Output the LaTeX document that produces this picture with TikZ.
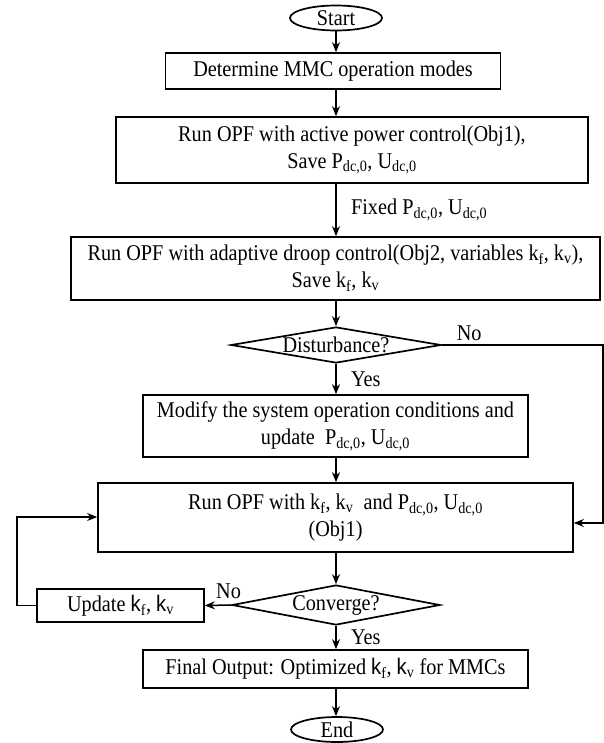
\documentclass[tikz,border=0pt]{standalone}
\usepackage{fontspec}
\setmainfont{Liberation Serif}[FakeStretch=0.9]
\setsansfont{Liberation Sans}[FakeStretch=0.9]
\usetikzlibrary{arrows.meta,shapes.geometric}
\newcommand{\dcz}[1]{#1\textsubscript{dc,0}}
\newcommand{\ksf}{\textsf{k}}

\begin{document}
\begin{tikzpicture}[x=1pt,y=-1pt,
        every node/.style={font=\fontsize{22.5}{27}\selectfont},
        proc/.style={draw,line width=1.7pt,align=center,inner sep=0pt},
        term/.style={draw,ellipse,line width=1.7pt,minimum width=92pt,minimum height=25pt,inner sep=0pt},
        decide/.style={draw,diamond,line width=1.7pt,inner sep=0pt},
        flow/.style={line width=1.5pt,-{Stealth[length=10pt,width=8pt]}}]
                \useasboundingbox (0,0) rectangle (604,743);
                \coordinate (axis) at (336,0);
                \coordinate (rgt) at (603,523);
                \coordinate (lft) at (17,517);
                \node [term] (start) at (336,18) {Start};
                \node [proc,minimum width=335pt,minimum height=36pt] (modes) at (333,71) {Determine MMC operation modes};
                \node [proc,minimum width=472pt,minimum height=66pt] (opf1) at (352,150) {Run OPF with active power control(Obj1),\\Save \dcz{P}, \dcz{U}};
                \node [proc,minimum width=529pt,minimum height=63pt] (opf2) at (335.5,268.5) {Run OPF with adaptive droop control(Obj2, variables k\textsubscript{f}, k\textsubscript{v}),\\Save k\textsubscript{f}, k\textsubscript{v}};
                \node [decide,minimum width=210pt,minimum height=36pt] (dist) at (336,345) {\makebox[0pt]{Disturbance?}};
                \node [proc,minimum width=385pt,minimum height=62pt] (modify) at (335.5,426) {Modify the system operation conditions and\\update~ \dcz{P}, \dcz{U}};
                \node [proc,minimum width=475pt,minimum height=69pt] (opf3) at (335.5,517.5) {Run OPF with k\textsubscript{f}, k\textsubscript{v}~ and \dcz{P}, \dcz{U}\\(Obj1)};
                \node [decide,minimum width=208pt,minimum height=40pt] (conv) at (336,605) {\makebox[0pt]{Converge?}};
                \node [proc,minimum width=167pt,minimum height=33pt] (update) at (120.5,605.5) {Update \ksf\textsubscript{f}, \ksf\textsubscript{v}};
                \node [proc,minimum width=385pt,minimum height=38pt] (final) at (335.5,669) {Final Output: Optimized \ksf\textsubscript{f}, \ksf\textsubscript{v} for MMCs};
                \node [term] (end) at (337,729.5) {End};
                \draw [flow] (start.south) -- (axis |- modes.north);
                \draw [flow] (axis |- modes.south) -- (axis |- opf1.north);
                \draw [flow] (axis |- opf1.south) -- node [right=11pt] {Fixed \dcz{P}, \dcz{U}} (axis |- opf2.north);
                \draw [flow] (axis |- opf2.south) -- (dist.north);
                \draw [flow] (dist.south) -- node [right=11pt] {Yes} (axis |- modify.north);
                \draw [flow] (dist.east) -- node [above,pos=0.17] {No} (dist.east -| rgt) -- (rgt) -- (rgt -| opf3.east);
                \draw [flow] (axis |- modify.south) -- (axis |- opf3.north);
                \draw [flow] (axis |- opf3.south) -- (conv.north);
                \draw [flow] (conv.west) -- node [above=2pt,pos=0.1] {No} (update.east);
                \draw [flow] (update.west) -- (update.west -| lft) -- (lft) -- (lft -| opf3.west);
                \draw [flow] (conv.south) -- node [right=11pt] {Yes} (axis |- final.north);
                \draw [flow] (axis |- final.south) -- (axis |- end.north);
            \end{tikzpicture}
\end{document}
